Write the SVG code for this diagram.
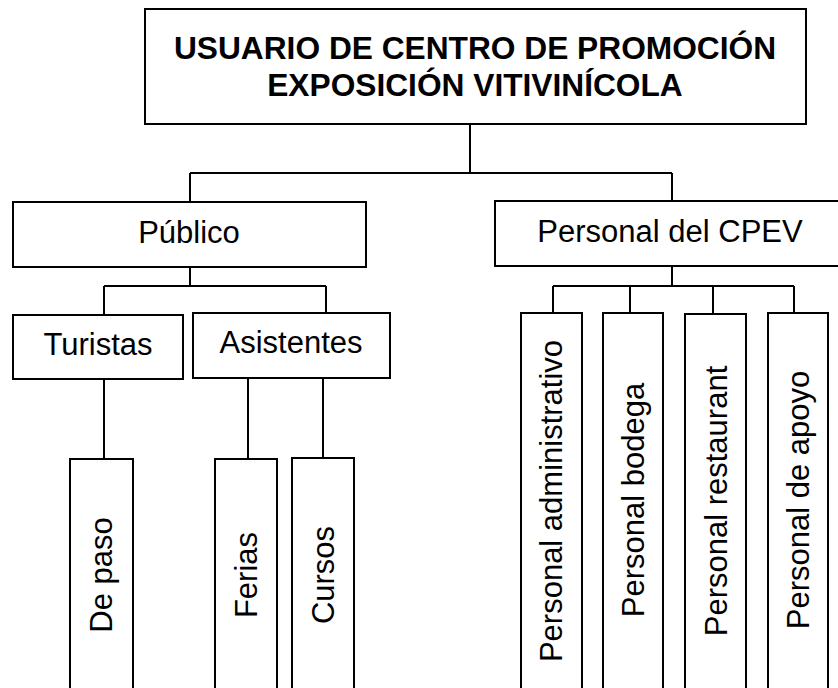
<svg xmlns="http://www.w3.org/2000/svg" width="838" height="688" viewBox="0 0 838 688">
<style>
.box{fill:#fff;stroke:#000;stroke-width:2}
.c{fill:none;stroke:#000;stroke-width:2}
text{font-family:"Liberation Sans",Arial,sans-serif;font-size:31px;fill:#000;text-anchor:middle}
.t{font-weight:bold;font-size:31.7px}
</style>
<rect width="838" height="688" fill="#fff"/>
<g id="connectors">
<path class="c" d="M470 124V173M190 173H672M190 173V202M672 173V201"/>
<path class="c" d="M190 267V286M104 286H326M104 286V315M326 286V313"/>
<path class="c" d="M104 379V459M248 378V459M323 378V458"/>
<path class="c" d="M672 266V286M553 286H794M553 286V313M630 286V313M713 286V314M794 286V313"/>
</g>
<g id="root"><rect class="box" x="145" y="9" width="661" height="115"/>
<text class="t" x="475" y="59">USUARIO DE CENTRO DE PROMOCIÓN</text>
<text class="t" x="475" y="96">EXPOSICIÓN VITIVINÍCOLA</text></g>
<g id="publico"><rect class="box" x="13" y="202" width="353" height="65"/><text x="189" y="243">Público</text></g>
<g id="personal"><rect class="box" x="495" y="201" width="350" height="65"/><text x="670" y="242">Personal del CPEV</text></g>
<g id="turistas"><rect class="box" x="13" y="315" width="170" height="64"/><text x="98" y="355">Turistas</text></g>
<g id="asistentes"><rect class="box" x="193" y="313" width="197" height="65"/><text x="291" y="353">Asistentes</text></g>
<g id="depaso"><rect class="box" x="70" y="459" width="63" height="240"/><text transform="translate(112 575) rotate(-90)">De paso</text></g>
<g id="ferias"><rect class="box" x="215" y="459" width="62" height="240"/><text transform="translate(257 575) rotate(-90)">Ferias</text></g>
<g id="cursos"><rect class="box" x="292" y="458" width="62" height="240"/><text transform="translate(334 575) rotate(-90)">Cursos</text></g>
<g id="administrativo"><rect class="box" x="521" y="313" width="61" height="390"/><text transform="translate(562 501) rotate(-90)">Personal administrativo</text></g>
<g id="bodega"><rect class="box" x="603" y="313" width="60" height="390"/><text transform="translate(644 500) rotate(-90)">Personal bodega</text></g>
<g id="restaurant"><rect class="box" x="685" y="314" width="61" height="390"/><text transform="translate(727 501) rotate(-90)">Personal restaurant</text></g>
<g id="apoyo"><rect class="box" x="768" y="313" width="60" height="390"/><text transform="translate(809 500) rotate(-90)">Personal de apoyo</text></g>
</svg>
